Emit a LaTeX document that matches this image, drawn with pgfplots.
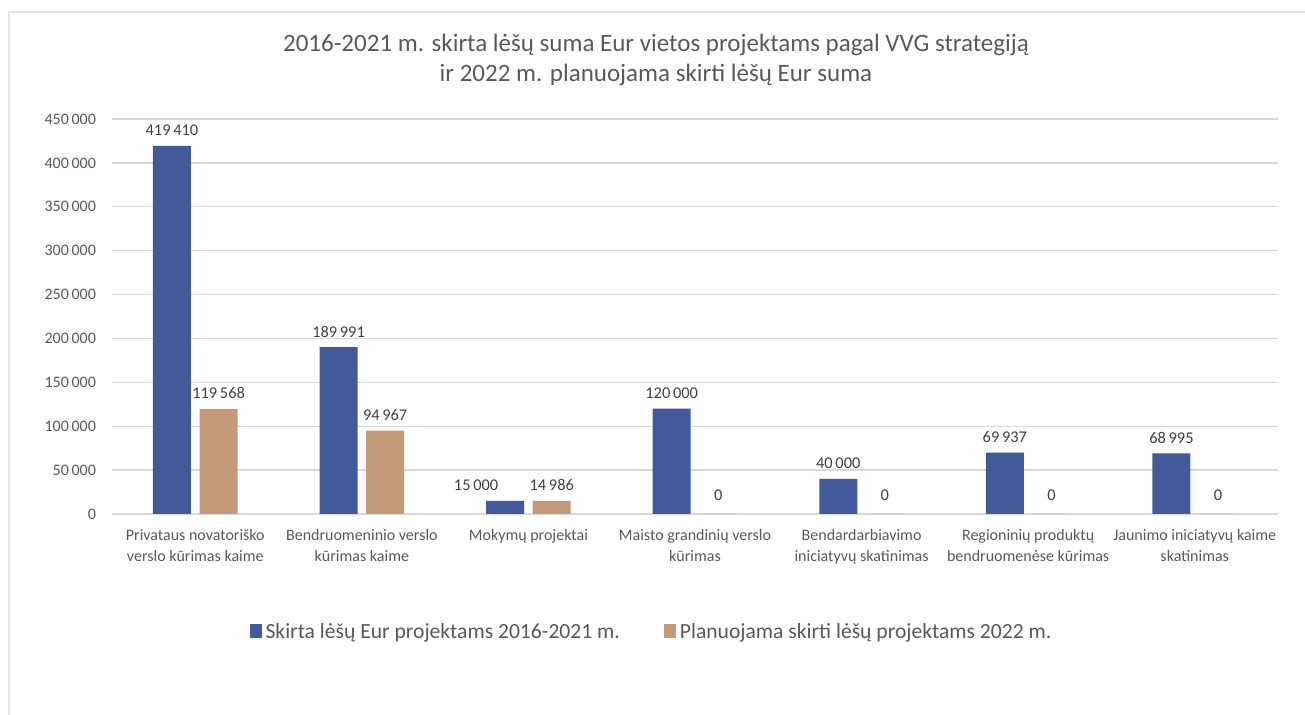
\documentclass[border=0pt]{standalone}
\usepackage{pgfplots}
\pgfplotsset{compat=1.18}
\usepackage{fontspec}
\setmainfont{Carlito}
\definecolor{cblue}{HTML}{42599A}
\definecolor{ctan}{HTML}{C49A7B}
\definecolor{ctext}{HTML}{595959}
\definecolor{cval}{HTML}{404040}
\definecolor{cgrid}{HTML}{D9D9D9}
\definecolor{cframe}{HTML}{E3E3E3}
\begin{document}
\begin{tikzpicture}
\path[use as bounding box] (0,0) rectangle (652.5pt,357.5pt);
\draw[cframe, line width=0.8pt] (4.5pt,-20pt) -- (4.5pt,351.5pt) -- (700pt,351.5pt);
\node[text=ctext, font=\fontsize{12.5}{15}\selectfont, align=center] at (328pt,327.5pt)
  {2016-2021 m. skirta lėšų suma Eur vietos projektams pagal VVG strategiją\\ir 2022 m. planuojama skirti lėšų Eur suma};
\begin{axis}[
  at={(56pt,100.5pt)}, anchor=south west,
  scale only axis, width=583pt, height=197.5pt,
  ybar=4.3pt, bar width=19pt,
  xmin=-0.5, xmax=6.5, ymin=0, ymax=450000,
  enlargelimits=false,
  axis line style={draw=none},
  major tick length=0pt,
  ymajorgrids, grid style={cgrid, line width=0.7pt},
  scaled y ticks=false,
  ytick={0,50000,100000,150000,200000,250000,300000,350000,400000,450000},
  yticklabels={0,50\,000,100\,000,150\,000,200\,000,250\,000,300\,000,350\,000,400\,000,450\,000},
  yticklabel style={font=\fontsize{8}{9.6}\selectfont, text=ctext, xshift=-4.5pt},
  xtick={0,1,2,3,4,5,6},
  xticklabels={{Privataus novatoriško\\verslo kūrimas kaime},{Bendruomeninio verslo\\kūrimas kaime},{Mokymų projektai},{Maisto grandinių verslo\\kūrimas},{Bendardarbiavimo\\iniciatyvų skatinimas},{Regioninių produktų\\bendruomenėse kūrimas},{Jaunimo iniciatyvų kaime\\skatinimas}},
  xticklabel style={font=\fontsize{8}{10.5}\selectfont, text=ctext, align=center, yshift=-4pt},
  point meta=explicit symbolic,
  nodes near coords,
  every node near coord/.append style={font=\fontsize{8.2}{10}\selectfont, text=cval, yshift=1.5pt},
  legend style={draw=none, at={(0.4635,-0.299)}, anchor=center, legend columns=2,
    font=\fontsize{10.8}{12}\selectfont, text=ctext,
    /tikz/every even column/.append style={column sep=20pt}},
  legend image code/.code={\fill[#1] (0pt,-3pt) rectangle (6pt,4pt);},
]
\addplot[fill=cblue, draw=none] coordinates {(0,419410)[419\,410] (1,189991)[189\,991] (2,15000)[15\,000\rule{29pt}{0pt}] (3,120000)[120\,000] (4,40000)[40\,000] (5,69937)[69\,937] (6,68995)[68\,995]};
\addplot[fill=ctan, draw=none] coordinates {(0,119568)[119\,568] (1,94967)[94\,967] (2,14986)[14\,986] (3,0)[\raisebox{1.5pt}{0}] (4,0)[\raisebox{1.5pt}{0}] (5,0)[\raisebox{1.5pt}{0}] (6,0)[\raisebox{1.5pt}{0}]};
\legend{Skirta lėšų Eur projektams 2016-2021 m.,Planuojama skirti lėšų projektams 2022 m.}
\end{axis}
\end{tikzpicture}
\end{document}
